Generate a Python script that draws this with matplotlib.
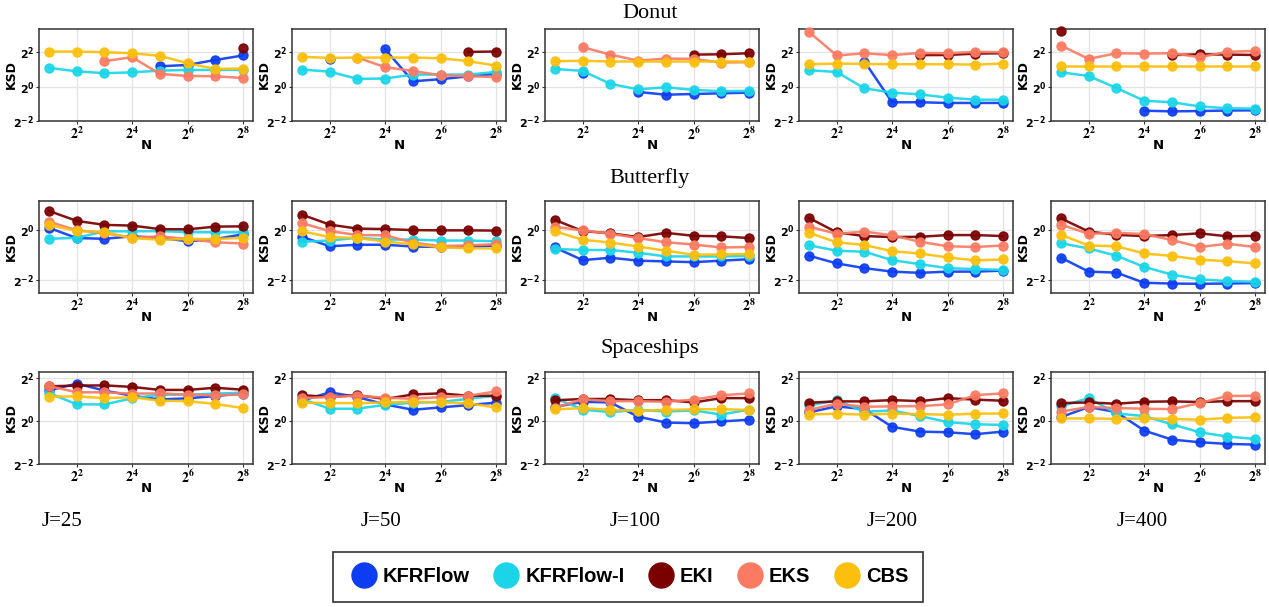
"""
plot.py - KSD vs. number of particles N for three targets and five ensemble sizes J.
"""

import numpy as np
import matplotlib
matplotlib.use('Agg')
import matplotlib.pyplot as plt
from matplotlib.lines import Line2D

nan = np.nan

# ── Data (log2 of KSD) ────────────────────────────────────────────────────────
N_VALUES = [2, 4, 8, 16, 32, 64, 128, 256]
TARGETS = ['Donut', 'Butterfly', 'Spaceships']
J_VALUES = [25, 50, 100, 200, 400]
METHODS = ['KFRFlow', 'KFRFlow-I', 'EKI', 'EKS', 'CBS']

donut_kfrflow = [
    [nan, nan, nan, nan, 1.18, 1.26, 1.55, 1.81],
    [nan, 1.60, nan, 2.17, 0.31, 0.43, 0.60, 0.74],
    [nan, 0.80, nan, -0.31, -0.47, -0.43, -0.39, -0.35],
    [nan, nan, 1.46, -0.91, -0.91, -0.95, -0.95, -0.95],
    [nan, nan, nan, -1.40, -1.44, -1.42, -1.39, -1.38],
]
donut_kfrflow_i = [
    [1.09, 0.89, 0.78, 0.83, 0.93, 0.97, 0.97, 0.97],
    [0.99, 0.87, 0.45, 0.47, 0.70, 0.70, 0.70, 0.85],
    [1.03, 0.91, 0.16, -0.16, -0.04, -0.19, -0.27, -0.25],
    [0.95, 0.85, -0.10, -0.35, -0.45, -0.64, -0.76, -0.76],
    [0.83, 0.62, -0.08, -0.82, -0.91, -1.15, -1.26, -1.28],
]
donut_eki = [
    [nan, nan, nan, nan, nan, nan, nan, 2.25],
    [nan, nan, nan, nan, nan, nan, 2.02, 2.04],
    [nan, nan, nan, nan, nan, 1.86, 1.88, 1.94],
    [nan, nan, nan, nan, 1.83, 1.84, 1.92, 1.94],
    [3.26, nan, nan, nan, 1.83, 1.88, 1.86, 1.84],
]
donut_eks = [
    [nan, nan, 1.48, 1.71, 0.74, 0.62, 0.60, 0.50],
    [nan, nan, 1.69, 1.13, 0.91, 0.66, 0.60, 0.56],
    [nan, 2.29, 1.86, 1.51, 1.63, 1.61, 1.40, 1.42],
    [3.18, 1.81, 1.94, 1.83, 1.96, 1.94, 2.02, 2.00],
    [2.39, 1.61, 1.94, 1.92, 1.94, 1.71, 2.02, 2.08],
]
donut_cbs = [
    [2.04, 2.04, 2.00, 1.94, 1.79, 1.36, 1.03, 1.05],
    [1.73, 1.67, 1.69, 1.69, 1.69, 1.65, 1.48, 1.22],
    [1.48, 1.50, 1.46, 1.46, 1.46, 1.46, 1.46, 1.46],
    [1.30, 1.34, 1.32, 1.30, 1.30, 1.30, 1.28, 1.34],
    [1.22, 1.22, 1.22, 1.22, 1.22, 1.22, 1.22, 1.22],
]

butterfly_kfrflow = [
    [0.10, -0.31, -0.34, -0.24, -0.30, -0.44, -0.35, -0.16],
    [-0.26, -0.64, -0.58, -0.58, -0.65, -0.67, -0.67, -0.61],
    [-0.69, -1.20, -1.10, -1.22, -1.25, -1.28, -1.22, -1.16],
    [-1.02, -1.33, -1.52, -1.66, -1.71, -1.66, -1.66, -1.62],
    [-1.10, -1.66, -1.70, -2.11, -2.14, -2.15, -2.14, -2.12],
]
butterfly_kfrflow_i = [
    [-0.34, -0.30, -0.04, -0.04, -0.03, -0.07, -0.08, -0.08],
    [-0.46, -0.41, -0.30, -0.37, -0.37, -0.41, -0.41, -0.44],
    [-0.75, -0.79, -0.79, -0.90, -1.05, -1.05, -1.05, -1.03],
    [-0.60, -0.82, -0.86, -1.20, -1.36, -1.52, -1.56, -1.59],
    [-0.52, -0.73, -1.02, -1.47, -1.78, -1.97, -2.04, -2.07],
]
butterfly_eki = [
    [0.78, 0.38, 0.22, 0.19, 0.05, 0.04, 0.15, 0.16],
    [0.63, 0.23, 0.07, 0.05, 0.01, 0.00, 0.00, -0.01],
    [0.42, -0.03, -0.12, -0.27, -0.10, -0.22, -0.24, -0.31],
    [0.50, -0.08, -0.23, -0.27, -0.26, -0.19, -0.19, -0.23],
    [0.48, -0.05, -0.18, -0.23, -0.19, -0.12, -0.24, -0.22],
]
butterfly_eks = [
    [0.35, 0.00, -0.11, -0.30, -0.24, -0.35, -0.48, -0.53],
    [0.29, -0.03, -0.19, -0.20, -0.49, -0.64, -0.60, -0.56],
    [0.14, 0.00, -0.14, -0.31, -0.48, -0.57, -0.69, -0.67],
    [0.15, -0.14, -0.05, -0.20, -0.46, -0.64, -0.67, -0.61],
    [0.23, -0.14, -0.10, -0.15, -0.39, -0.67, -0.54, -0.67],
]
butterfly_cbs = [
    [0.20, -0.01, -0.08, -0.31, -0.38, -0.35, -0.35, -0.30],
    [-0.04, -0.27, -0.31, -0.45, -0.56, -0.68, -0.72, -0.73],
    [-0.04, -0.38, -0.49, -0.65, -0.82, -0.98, -0.97, -0.95],
    [-0.10, -0.48, -0.59, -0.84, -0.93, -1.09, -1.21, -1.17],
    [-0.18, -0.61, -0.64, -0.93, -1.03, -1.18, -1.24, -1.33],
]

spaceships_kfrflow = [
    [1.41, 1.72, 1.40, 1.16, 0.99, 1.04, 1.15, 1.26],
    [0.93, 1.32, 1.10, 0.76, 0.51, 0.62, 0.73, 0.84],
    [0.64, 0.88, 0.85, 0.19, -0.08, -0.11, -0.03, 0.05],
    [0.39, 0.67, 0.54, -0.28, -0.50, -0.53, -0.62, -0.50],
    [0.17, 0.64, 0.40, -0.45, -0.87, -0.99, -1.07, -1.10],
]
spaceships_kfrflow_i = [
    [1.29, 0.76, 0.76, 1.04, 1.21, 1.21, 1.26, 1.30],
    [1.01, 0.56, 0.56, 0.74, 0.84, 0.87, 1.02, 1.16],
    [1.05, 0.52, 0.40, 0.51, 0.43, 0.48, 0.29, 0.52],
    [0.71, 0.95, 0.42, 0.48, 0.22, -0.06, -0.16, -0.19],
    [0.67, 1.05, 0.34, 0.22, -0.16, -0.53, -0.73, -0.84],
]
spaceships_eki = [
    [1.60, 1.63, 1.64, 1.57, 1.43, 1.43, 1.53, 1.44],
    [1.19, 1.10, 1.19, 1.01, 1.22, 1.27, 1.16, 1.16],
    [0.95, 1.01, 1.01, 0.95, 0.96, 0.85, 1.05, 1.05],
    [0.84, 0.90, 0.90, 0.96, 0.91, 1.05, 0.98, 0.93],
    [0.82, 0.85, 0.79, 0.88, 0.90, 0.87, 0.91, 0.91],
]
spaceships_eks = [
    [1.61, 1.32, 1.32, 1.26, 1.27, 1.21, 1.18, 1.22],
    [1.05, 1.10, 1.16, 1.07, 1.02, 1.10, 1.16, 1.36],
    [0.60, 1.00, 0.91, 0.91, 0.88, 0.98, 1.18, 1.27],
    [0.51, 0.79, 0.65, 0.67, 0.68, 0.76, 1.19, 1.27],
    [0.43, 0.64, 0.59, 0.56, 0.54, 0.82, 1.15, 1.16],
]
spaceships_cbs = [
    [1.12, 1.13, 1.05, 1.09, 0.93, 0.91, 0.78, 0.59],
    [0.84, 0.82, 0.82, 0.85, 0.88, 0.85, 0.81, 0.62],
    [0.53, 0.59, 0.51, 0.47, 0.50, 0.53, 0.54, 0.50],
    [0.29, 0.33, 0.28, 0.33, 0.31, 0.28, 0.33, 0.34],
    [0.11, 0.11, 0.09, 0.11, 0.09, 0.05, 0.14, 0.16],
]

DATA = {
    'Donut': [donut_kfrflow, donut_kfrflow_i, donut_eki, donut_eks, donut_cbs],
    'Butterfly': [butterfly_kfrflow, butterfly_kfrflow_i, butterfly_eki, butterfly_eks, butterfly_cbs],
    'Spaceships': [spaceships_kfrflow, spaceships_kfrflow_i, spaceships_eki, spaceships_eks, spaceships_cbs],
}

# ── Style ─────────────────────────────────────────────────────────────────────
COLORS = ['#0d3df2', '#1ad5e8', '#7a0000', '#fb7b62', '#fcbf0c']
YLIMS = {'Donut': (-2.0, 3.35), 'Butterfly': (-2.52, 1.18), 'Spaceships': (-2.0, 2.26)}
YTICKS = {'Donut': [-2, 0, 2], 'Butterfly': [-2, 0], 'Spaceships': [-2, 0, 2]}
ROW_TOPS = [29, 201, 372]
COL_LEFTS = [39, 292, 545, 799, 1051]
AX_W, AX_H = 214, 92
W, H = 1269, 607
ROW_TITLE_Y = [13, 178, 348]
J_LABEL_X = [62, 381, 635, 892, 1142]


def main():
    fig = plt.figure(figsize=(W / 100, H / 100), dpi=100)

    for r, target in enumerate(TARGETS):
        lo, hi = YLIMS[target]
        for c, J in enumerate(J_VALUES):
            ax = fig.add_axes([COL_LEFTS[c] / W, 1 - (ROW_TOPS[r] + AX_H) / H, AX_W / W, AX_H / H])
            for m, method in enumerate(METHODS):
                vals = np.exp2(np.array(DATA[target][m][c], dtype=float))
                ax.plot(N_VALUES, vals, color=COLORS[m], lw=1.8, marker='o', ms=6.5,
                        mec=COLORS[m], alpha=0.92, zorder=3 + m, clip_on=False)

            ax.set_xscale('log', base=2)
            ax.set_yscale('log', base=2)
            ax.set_xlim(2 ** 0.64, 2 ** 8.36)
            ax.set_ylim(2 ** lo, 2 ** hi)
            ax.minorticks_off()

            xt = [4, 16, 64, 256]
            ax.set_xticks(xt)
            ax.set_xticklabels([r'$\mathbf{2^{%d}}$' % int(np.log2(v)) for v in xt])
            for lab in ax.get_xticklabels():
                lab.set_math_fontfamily('stix')
                lab.set_fontsize(10)

            yt = YTICKS[target]
            ax.set_yticks([2.0 ** k for k in yt])
            ax.set_yticklabels([r'$\mathbf{2^{%d}}$' % k for k in yt])
            for lab in ax.get_yticklabels():
                lab.set_math_fontfamily('dejavusans')
                lab.set_fontsize(8)

            ax.grid(True, color='#e3e3e3', lw=0.9)
            ax.set_axisbelow(True)
            ax.tick_params(length=2, width=0.8, color='#333333', pad=1.2)
            for sp in ax.spines.values():
                sp.set_linewidth(1.1)
                sp.set_color('#333333')

            ax.set_xlabel('N', fontsize=9.5, fontweight='bold')
            ax.xaxis.set_label_coords(0.5, -0.2)
            ax.set_ylabel('KSD', fontsize=9, fontweight='bold')
            ax.yaxis.set_label_coords(-28 / AX_W, 0.5)
            ax.yaxis.label.set_va('center')

        fig.text(650 / W, 1 - ROW_TITLE_Y[r] / H, target, ha='center', va='center',
                 fontsize=16, family='Liberation Serif')

    for c, J in enumerate(J_VALUES):
        fig.text(J_LABEL_X[c] / W, 1 - 521 / H, f'J={J}', ha='center', va='center',
                 fontsize=15, family='Liberation Serif')

    handles = [Line2D([], [], color=COLORS[m], marker='o', ls='none', ms=18) for m in range(len(METHODS))]
    leg = fig.legend(handles, METHODS, loc='center', bbox_to_anchor=(628 / W, 1 - 577 / H), ncol=5,
                     frameon=True, fancybox=False, handletextpad=0.15, columnspacing=1.0,
                     borderpad=0.75, handlelength=1.6,
                     prop={'family': 'Liberation Sans', 'weight': 'bold', 'size': 14.5})
    leg.get_frame().set_edgecolor('black')
    leg.get_frame().set_linewidth(1.2)

    fig.savefig('out.png', dpi=100)
    plt.close(fig)


if __name__ == '__main__':
    main()
